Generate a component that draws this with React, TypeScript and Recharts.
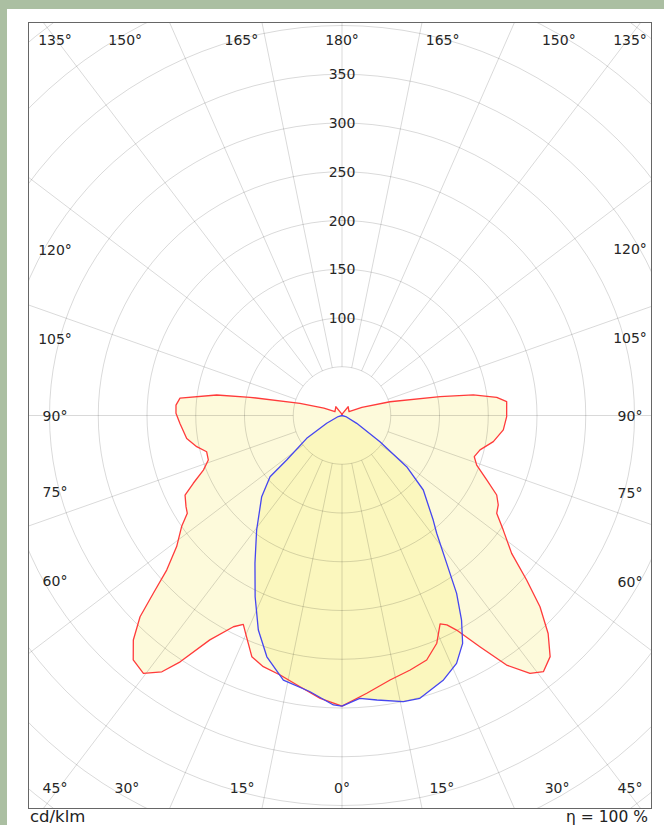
import React from 'react';
import { ScatterChart, Scatter, XAxis, YAxis } from 'recharts';

// polar curves: [gamma (deg from nadir), cd/klm]
const redRight: [number, number][] = [
  [0, 298], [5.1, 286], [10.3, 275.7], [15, 270.2], [19.1, 265.4], [22.6, 253], [25.2, 236.3],
  [26.6, 240.2], [28.1, 249.5], [30.8, 276.1], [33.4, 306.6], [36.1, 327.3], [38.2, 334.2],
  [40.8, 326.7], [43.4, 307.7], [46, 282.3], [48.3, 253.6], [50.9, 224.2], [54.6, 202.9],
  [57.7, 187.7], [60.2, 184.7], [62.8, 178.4], [66, 162.5], [69.8, 147.2], [72.7, 142.1],
  [76, 145.9], [80.2, 157.5], [84.9, 166.1], [89.6, 168.9], [94.8, 169.5], [96.7, 159.8],
  [98.9, 136.3], [100.9, 102.4], [106, 51.2], [112, 22], [118.5, 8.2], [145, 11], [165, 2], [180, 0],
];
const redLeft: [number, number][] = [
  [0, 298], [4.4, 291], [8.8, 281.5], [13.4, 273.6], [17.4, 270], [20.5, 264.1], [23.9, 244.2],
  [25.3, 236.9], [27.2, 243.6], [30.5, 267.1], [33.3, 302.3], [35.1, 321.3], [37.6, 333.8],
  [40.5, 329.7], [42.9, 314.4], [45.1, 292.4], [46.7, 265.9], [48.6, 239.7], [51.6, 216.4],
  [55.3, 200.1], [57.7, 187.7], [59.7, 185.3], [63.1, 180.5], [65.5, 167.6], [68.5, 152.8],
  [71.6, 144.5], [75, 143.7], [77.9, 152.4], [81.6, 161], [87.2, 166.4], [90.8, 170.3],
  [93.6, 170.6], [96.1, 167.1], [99.3, 130.2], [101.2, 96.2], [106.2, 44.9], [112, 20],
  [118.5, 8.2], [145, 11], [165, 2], [180, 0],
];
const blueRight: [number, number][] = [
  [0, 298], [3.6, 290.7], [7, 294], [12.1, 300.2], [15.4, 300.9], [21, 290.5], [24.8, 280.1],
  [27.9, 264.4], [30.3, 243], [32.8, 217], [35.3, 185.8], [38.8, 155], [41.1, 142.3],
  [47.5, 113.1], [51.6, 84.6], [55.4, 47.3], [62, 17.1], [75, 4], [90, 0], [180, 0],
];
const blueLeft: [number, number][] = [
  [0, 298], [1.7, 297], [6.7, 285], [12.5, 277.9], [17.3, 259.2], [21.3, 236.2], [25.6, 206.2],
  [30.5, 175.9], [36.7, 146.5], [44.7, 117.1], [49.6, 96.9], [51.2, 72.8], [57.1, 43.1],
  [63, 17.6], [75, 4], [90, 0], [180, 0],
];

const gridRadii = [50, 100, 150, 200, 250, 300, 350, 400, 450, 500, 550];
const radiusLabels = [100, 150, 200, 250, 300, 350];
const spokeAngles = [0, 15, 30, 45, 60, 75, 90, 105, 120, 135, 150, 165, 180];
const angleLabels = [0, 15, 30, 45, 60, 75, 90, 105, 120, 135, 150, 165, 180];

const W = 622;
const H = 785;
const PX = 0.975; // pixels per cd/klm
const CX = 313; // centre inside the plot
const CY = 392.5;
const SPOKE_K = 0.76; // the spokes in the original are squeezed sideways

const rad = (d: number) => (d * Math.PI) / 180;
const pt = (side: number, g: number, v: number) => ({
  x: side * v * Math.sin(rad(g)),
  y: -v * Math.cos(rad(g)),
});
const outline = (right: [number, number][], left: [number, number][]) => [
  ...right.map(([g, v]) => pt(1, g, v)),
  ...left.slice().reverse().map(([g, v]) => pt(-1, g, v)),
];

const redPoly = outline(redRight, redLeft);
const bluePoly = outline(blueRight, blueLeft);

const circle = (r: number) => Array.from({ length: 121 }, (_, i) => pt(1, i * 3, r));
const spoke = (side: number, a: number) => {
  const dx = side * SPOKE_K * Math.sin(rad(a));
  const dy = -Math.cos(rad(a));
  const n = Math.hypot(dx, dy);
  return [
    { x: (50 * dx) / n, y: (50 * dy) / n },
    { x: (800 * dx) / n, y: (800 * dy) / n },
  ];
};

const NoDot = () => <g />;
const GRID = 'rgba(0,0,0,0.15)';
const font = '"DejaVu Sans", Verdana, sans-serif';

const labelPos = (side: number, a: number) => {
  const cx = 342, cy = 415.5, l = 55, r = 630, t = 40, b = 788;
  if (a <= 45) {
    const x = cx + side * (b - cy) * Math.tan(rad(a));
    return { x: Math.min(r, Math.max(l, x)), y: b };
  }
  if (a >= 135) {
    const x = cx + side * (cy - t) * Math.tan(rad(180 - a));
    return { x: Math.min(r, Math.max(l, x)), y: t };
  }
  const dx = side < 0 ? cx - l : r - cx;
  return { x: side < 0 ? l : r, y: cy + dx / Math.tan(rad(a)) };
};

export default function App() {
  const labels: { x: number; y: number; text: string }[] = [];
  angleLabels.forEach((a) => {
    const sides = a === 0 || a === 180 ? [1] : [-1, 1];
    sides.forEach((s) => {
      const p = a === 0 || a === 180 ? { x: 342, y: a === 0 ? 788 : 40 } : labelPos(s, a);
      labels.push({ ...p, text: `${a}°` });
    });
  });

  return (
    <div style={{ position: 'absolute', left: 0, top: 0, width: 664, height: 825, background: '#abbfa2', overflow: 'hidden', fontFamily: font }}>
      <div style={{ position: 'absolute', left: 7, top: 9, right: 0, bottom: 0, background: '#fff' }} />
      <div style={{ position: 'absolute', left: 29, top: 23, width: W, height: H }}>
        <ScatterChart width={W} height={H} margin={{ top: 0, right: 0, bottom: 0, left: 0 }}>
          <XAxis type="number" dataKey="x" domain={[-CX / PX, (W - CX) / PX]} allowDataOverflow hide />
          <YAxis type="number" dataKey="y" domain={[-(H - CY) / PX, CY / PX]} allowDataOverflow hide />
          <Scatter data={redPoly} line={{ fill: '#fdfadb', stroke: 'none' }} shape={NoDot} isAnimationActive={false} />
          <Scatter data={bluePoly} line={{ fill: '#fbf7be', stroke: 'none' }} shape={NoDot} isAnimationActive={false} />
          {gridRadii.map((r) => (
            <Scatter key={`c${r}`} data={circle(r)} line={{ fill: 'none', stroke: GRID, strokeWidth: 1 }} shape={NoDot} isAnimationActive={false} />
          ))}
          {spokeAngles.flatMap((a) =>
            (a === 0 || a === 180 ? [1] : [-1, 1]).map((s) => (
              <Scatter key={`s${a}${s}`} data={spoke(s, a)} line={{ fill: 'none', stroke: GRID, strokeWidth: 1 }} shape={NoDot} isAnimationActive={false} />
            ))
          )}
          <Scatter data={redPoly} line={{ fill: 'none', stroke: '#ff3b3b', strokeWidth: 1.3, strokeLinejoin: 'round' }} shape={NoDot} isAnimationActive={false} />
          <Scatter data={bluePoly} line={{ fill: 'none', stroke: '#4646f0', strokeWidth: 1.3, strokeLinejoin: 'round' }} shape={NoDot} isAnimationActive={false} />
        </ScatterChart>
      </div>
      <div style={{ position: 'absolute', left: 28, top: 22, width: 624, height: 787, boxSizing: 'border-box', border: '1px solid #666' }} />
      {labels.map((l, i) => (
        <div key={i} style={{ position: 'absolute', left: l.x, top: l.y, transform: 'translate(-50%,-50%)', fontSize: 14, color: '#262626', whiteSpace: 'nowrap', lineHeight: 1 }}>
          {l.text}
        </div>
      ))}
      {radiusLabels.map((v) => (
        <div key={v} style={{ position: 'absolute', left: 342, top: 415.5 - v * PX, transform: 'translate(-50%,-50%)', fontSize: 14, color: '#262626', lineHeight: 1 }}>
          {v}
        </div>
      ))}
      <div style={{ position: 'absolute', left: 30, top: 809, fontSize: 16.5, color: '#222', lineHeight: 1, whiteSpace: 'nowrap' }}>cd/klm</div>
      <div style={{ position: 'absolute', right: 16, top: 809.5, fontSize: 15.5, color: '#222', lineHeight: 1, whiteSpace: 'nowrap' }}>η = 100 %</div>
    </div>
  );
}
